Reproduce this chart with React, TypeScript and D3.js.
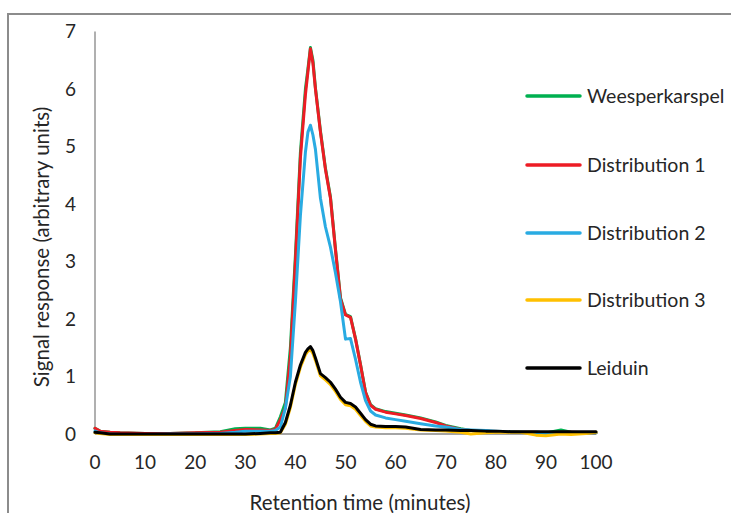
import React from "react";
import * as d3 from "d3";

const times = [0, 1, 3, 5, 10, 15, 20, 25, 28, 30, 33, 35, 36, 37, 38, 39, 40, 41, 42, 42.5, 43, 43.5, 44, 45, 46, 47, 48, 49, 50, 51, 52, 53, 54, 55, 56, 58, 60, 62, 65, 68, 70, 73, 75, 78, 80, 83, 85, 88, 90, 93, 95, 98, 100];

const weesperkarspel = [0.1, 0.05, 0.03, 0.02, 0.01, 0.01, 0.02, 0.04, 0.09, 0.1, 0.1, 0.07, 0.1, 0.3, 0.55, 1.5, 3.1, 4.9, 6.0, 6.35, 6.72, 6.5, 6.02, 5.27, 4.62, 4.12, 3.22, 2.37, 2.08, 2.04, 1.66, 1.21, 0.73, 0.51, 0.44, 0.39, 0.36, 0.33, 0.28, 0.21, 0.15, 0.09, 0.06, 0.05, 0.04, 0.04, 0.03, 0.03, 0.02, 0.07, 0.03, 0.02, 0.02];
const distribution1 = [0.1, 0.05, 0.03, 0.02, 0.01, 0.01, 0.02, 0.03, 0.06, 0.08, 0.07, 0.06, 0.08, 0.25, 0.45, 1.35, 3.0, 4.8, 5.9, 6.3, 6.7, 6.45, 6.0, 5.25, 4.6, 4.1, 3.2, 2.35, 2.07, 2.03, 1.65, 1.2, 0.72, 0.5, 0.43, 0.38, 0.35, 0.32, 0.27, 0.2, 0.14, 0.08, 0.06, 0.05, 0.04, 0.04, 0.03, 0.03, 0.02, 0.03, 0.03, 0.02, 0.02];
const distribution2 = [0.05, 0.02, 0.0, -0.01, -0.01, 0.0, 0.0, 0.01, 0.03, 0.05, 0.05, 0.05, 0.06, 0.12, 0.45, 1.0, 2.3, 3.8, 4.9, 5.25, 5.37, 5.2, 4.95, 4.1, 3.6, 3.25, 2.8, 2.3, 1.65, 1.66, 1.3, 0.9, 0.58, 0.4, 0.33, 0.28, 0.25, 0.22, 0.18, 0.14, 0.12, 0.08, 0.07, 0.06, 0.05, 0.04, 0.03, 0.02, 0.01, 0.02, 0.02, 0.02, 0.02];
const distribution3 = [0.02, 0.01, -0.01, -0.01, -0.01, -0.01, -0.01, -0.01, -0.01, -0.01, 0.0, 0.01, 0.01, 0.02, 0.17, 0.46, 0.86, 1.16, 1.38, 1.44, 1.47, 1.4, 1.28, 1.01, 0.94, 0.86, 0.74, 0.6, 0.51, 0.49, 0.43, 0.32, 0.22, 0.14, 0.12, 0.11, 0.11, 0.1, 0.07, 0.06, 0.05, 0.03, 0.0, 0.02, 0.03, 0.03, 0.03, -0.02, -0.03, 0.0, -0.01, 0.01, 0.03];
const leiduin = [0.03, 0.02, 0.0, 0.0, 0.0, 0.0, 0.0, 0.0, 0.0, 0.0, 0.01, 0.02, 0.02, 0.03, 0.2, 0.5, 0.9, 1.2, 1.42, 1.48, 1.52, 1.45, 1.32, 1.05, 0.98, 0.9, 0.78, 0.64, 0.55, 0.53, 0.47, 0.36, 0.25, 0.17, 0.14, 0.13, 0.13, 0.12, 0.08, 0.07, 0.07, 0.06, 0.06, 0.05, 0.05, 0.04, 0.04, 0.04, 0.04, 0.04, 0.04, 0.04, 0.04];

const seriesNames = ["Weesperkarspel", "Distribution 1", "Distribution 2", "Distribution 3", "Leiduin"];
const seriesColors = ["#00B050", "#ED1C24", "#29ABE2", "#FFC000", "#000000"];
const seriesValues = [weesperkarspel, distribution1, distribution2, distribution3, leiduin];

const xTicks = [0, 10, 20, 30, 40, 50, 60, 70, 80, 90, 100];
const yTicks = [0, 1, 2, 3, 4, 5, 6, 7];

const xTitle = "Retention time (minutes)";
const yTitle = "Signal response (arbitrary units)";

export default function App() {
  const W = 731;
  const H = 513;
  const x = d3.scaleLinear().domain([0, 100]).range([95, 596]);
  const y = d3.scaleLinear().domain([0, 7]).range([434, 31.5]);
  const line = d3
    .line<number>()
    .x((_, i) => x(times[i]))
    .y((v) => y(v))
    .curve(d3.curveLinear);
  const font = "Lato, 'Open Sans', sans-serif";
  const legendY = [96, 165, 233, 300, 368];
  const textColor = "#262626";

  return (
    <svg
      width={W}
      height={H}
      style={{ position: "fixed", left: 0, top: 0, background: "#fff" }}
      fontFamily={font}
    >
      <rect x={0} y={0} width={W} height={H} fill="#fff" />
      <rect x={8} y={14} width={W + 20} height={H + 20} fill="none" stroke="#8c8c8c" strokeWidth={2} />
      {/* axes */}
      <line x1={x(0)} x2={x(0)} y1={y(7)} y2={y(0)} stroke="#868686" strokeWidth={1.3} />
      <line x1={x(0)} x2={x(100)} y1={y(0)} y2={y(0)} stroke="#868686" strokeWidth={1.3} />
      {yTicks.map((t) => (
        <text key={"y" + t} x={76} y={y(t)} dy="0.35em" textAnchor="end" fontSize={19} fill={textColor}>
          {t}
        </text>
      ))}
      {xTicks.map((t) => (
        <text key={"x" + t} x={x(t)} y={462} dy="0.35em" textAnchor="middle" fontSize={19} fill={textColor}>
          {t}
        </text>
      ))}
      <text x={360} y={503} dy="0.35em" textAnchor="middle" fontSize={20.5} fill={textColor}>
        {xTitle}
      </text>
      <text
        transform={`translate(42,247) rotate(-90)`}
        dy="0.35em"
        textAnchor="middle"
        fontSize={20.5}
        fill={textColor}
      >
        {yTitle}
      </text>
      {/* series */}
      {seriesValues.map((vals, i) => (
        <path
          key={seriesNames[i]}
          d={line(vals) || ""}
          fill="none"
          stroke={seriesColors[i]}
          strokeWidth={3}
          strokeLinejoin="round"
          strokeLinecap="round"
        />
      ))}
      {/* legend */}
      {seriesNames.map((n, i) => (
        <g key={"lg" + n}>
          <line x1={527} x2={580} y1={legendY[i]} y2={legendY[i]} stroke={seriesColors[i]} strokeWidth={3.5} strokeLinecap="round" />
          <text x={587} y={legendY[i]} dy="0.35em" fontSize={19.5} fill={textColor}>
            {n}
          </text>
        </g>
      ))}
    </svg>
  );
}
